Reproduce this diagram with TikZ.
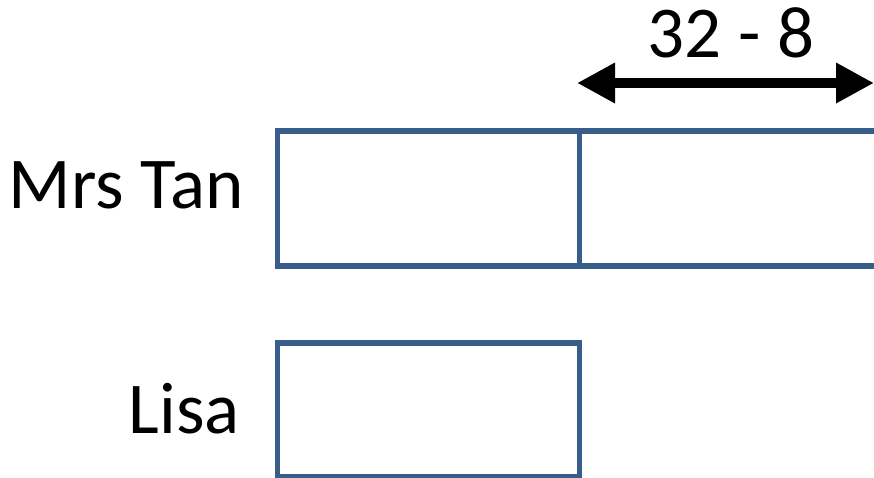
\documentclass[tikz,border=0pt]{standalone}
\usepackage{fontspec}
\setmainfont{Carlito}
\usetikzlibrary{arrows.meta}
\definecolor{boxblue}{HTML}{385D8A}
\begin{document}
\begin{tikzpicture}[x=1pt,y=-1pt,
  box/.style={draw=boxblue, line width=5.5pt, inner sep=0pt, anchor=north west},
  lbl/.style={font=\fontsize{73}{88}\selectfont, inner sep=0pt},
  dim/.style={line width=10pt, {Triangle[length=38pt,width=38pt]}-{Triangle[length=38pt,width=38pt]}}]
\useasboundingbox (0,0) rectangle (874,477);
\clip (0,0) rectangle (874,477);
\node[box, minimum width=302pt, minimum height=135pt] (mt1) at (274.5,128) {};
\node[box, minimum width=310pt, minimum height=135pt] (mt2) at (576.5,128) {};
\node[box, minimum width=302pt, minimum height=134pt] (lisa) at (274.5,340) {};
\node[lbl, anchor=base east] (mrstan) at (244,208) {Mrs Tan};
\node[lbl, anchor=base east] (lisalbl) at (240,433) {Lisa};
\coordinate (al) at (577,83);
\coordinate (ar) at (874,83);
\draw[dim] (al) -- (ar);
\node[lbl, anchor=base] (diff) at (731,57) {32 - 8};
\end{tikzpicture}
\end{document}
